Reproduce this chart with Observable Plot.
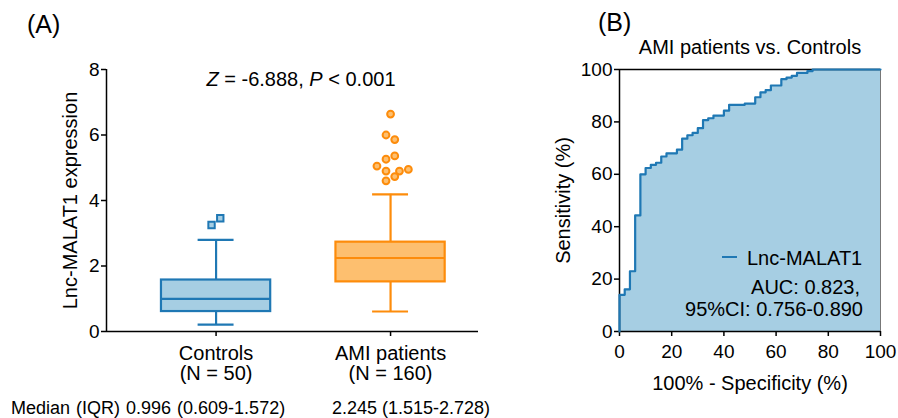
<!DOCTYPE html>
<html>
<head>
<meta charset="utf-8">
<script src="https://cdn.jsdelivr.net/npm/d3@7"></script>
<script src="https://cdn.jsdelivr.net/npm/@observablehq/plot@0.6"></script>
<style>
  html, body { margin: 0; padding: 0; background: #fff; }
  #root { position: relative; width: 898px; height: 418px; overflow: hidden; font-family: "Liberation Sans", Arial, sans-serif; color: #000; }
  .abs { position: absolute; white-space: nowrap; line-height: 1; }
  #panelA, #panelB { position: absolute; top: 0; }
  #panelA { left: 0; }
  #panelB { left: 500px; }
</style>
</head>
<body>
<div id="root">
  <div id="panelA"></div>
  <div id="panelB"></div>
</div>
<script>
// ---------- Panel A data (box plot summaries) ----------
const groups = ["Controls", "AMI patients"];
const groupN = [50, 160];
const groupPos = [1, 2];
const q1 = [0.609, 1.515];
const median = [0.996, 2.245];
const q3 = [1.572, 2.728];
const whiskerLow = [0.21, 0.61];
const whiskerHigh = [2.80, 4.19];
const controlOutliers = [3.25, 3.46];
const controlJitter = [-0.026, 0.024];
const amiOutliers = [6.64, 6.00, 5.86, 5.36, 5.26, 5.05, 4.90, 4.90, 4.95, 4.73, 4.60];
const amiJitter = [0, -0.026, 0.024, 0.024, -0.026, -0.078, -0.026, 0.051, 0.102, 0.024, -0.026];
const yTicksA = [0, 2, 4, 6, 8];
const medianIQR = ["0.996 (0.609-1.572)", "2.245 (1.515-2.728)"];
const statText = { z: "-6.888", p: "0.001" };

// ---------- Panel B data (ROC steps) ----------
const fpr = [0, 0, 2, 4, 6, 8, 10, 12, 14, 16, 18, 22, 24, 26, 28, 30, 32, 34, 36, 40, 42, 48, 52, 54, 56, 58, 62, 64, 66, 68, 72, 74, 100];
const tpr = [0, 14.0, 16.1, 23.0, 44.3, 60.0, 62.4, 63.6, 64.4, 66.8, 68.0, 69.4, 73.6, 74.9, 75.8, 77.6, 80.7, 81.4, 82.4, 84.3, 86.5, 87.0, 89.4, 91.3, 92.1, 93.9, 96.3, 96.9, 97.6, 98.7, 99.4, 100, 100];
const ticksB = [0, 20, 40, 60, 80, 100];
const rocName = "Lnc-MALAT1";
const aucText = "AUC: 0.823,";
const ciText = "95%CI: 0.756-0.890";

// ---------- styles ----------
const strokeColors = ["#1f78b4", "#fd8c0b"];
const fillColors = ["#a6cee3", "#fdbf6f"];
const font = '"Liberation Sans", Arial, sans-serif';
const halfBox = 0.313, halfCap = 0.103;
const xDomainA = [0.372, 2.504];

const boxes = groups.map((g, i) => ({
  group: g, pos: groupPos[i], q1: q1[i], med: median[i], q3: q3[i],
  lo: whiskerLow[i], hi: whiskerHigh[i], stroke: strokeColors[i], fill: fillColors[i]
}));
const ctrlOut = controlOutliers.map((v, i) => ({ x: groupPos[0] + controlJitter[i], y: v }));
const amiOut = amiOutliers.map((v, i) => ({ x: groupPos[1] + amiJitter[i], y: v }));

const plotA = Plot.plot({
  width: 500, height: 418,
  marginLeft: 106, marginRight: 22, marginTop: 69, marginBottom: 87,
  style: { fontFamily: font, fontSize: "19px", color: "#000", background: "transparent", overflow: "visible" },
  x: { type: "linear", domain: xDomainA },
  y: { domain: [0, 8] },
  color: { type: "identity" },
  marks: [
    Plot.ruleX(boxes, { x: "pos", y1: "lo", y2: "q1", stroke: "stroke", strokeWidth: 2.2 }),
    Plot.ruleX(boxes, { x: "pos", y1: "q3", y2: "hi", stroke: "stroke", strokeWidth: 2.2 }),
    Plot.ruleY(boxes, { y: "lo", x1: d => d.pos - halfCap, x2: d => d.pos + halfCap, stroke: "stroke", strokeWidth: 2.2 }),
    Plot.ruleY(boxes, { y: "hi", x1: d => d.pos - halfCap, x2: d => d.pos + halfCap, stroke: "stroke", strokeWidth: 2.2 }),
    Plot.rect(boxes, { x1: d => d.pos - halfBox, x2: d => d.pos + halfBox, y1: "q1", y2: "q3", fill: "fill", stroke: "stroke", strokeWidth: 2.2 }),
    Plot.ruleY(boxes, { y: "med", x1: d => d.pos - halfBox, x2: d => d.pos + halfBox, stroke: "stroke", strokeWidth: 2.2 }),
    Plot.dot(ctrlOut, { x: "x", y: "y", symbol: "square", r: 3.6, fill: fillColors[0], stroke: strokeColors[0], strokeWidth: 2 }),
    Plot.dot(amiOut, { x: "x", y: "y", r: 3.4, fill: fillColors[1], stroke: strokeColors[1], strokeWidth: 2 }),
    Plot.axisY({ ticks: yTicksA, tickSize: 5, tickPadding: 2, strokeWidth: 1.5, label: null, fontSize: 19 }),
    Plot.axisY({ ticks: [], label: "Lnc-MALAT1 expression", labelAnchor: "center", labelOffset: 44, labelArrow: "none", fontSize: 20 }),
    Plot.axisX({ ticks: groupPos, tickFormat: (d) => { const i = groupPos.indexOf(d); return `${groups[i]}\n(N = ${groupN[i]})`; }, tickSize: 5, tickPadding: 9, strokeWidth: 1.5, label: null, fontSize: 20 }),
    Plot.ruleY([0], { stroke: "#000", strokeWidth: 1.5 }),
    Plot.ruleX([xDomainA[0]], { stroke: "#000", strokeWidth: 1.5 })
  ]
});
document.getElementById("panelA").append(plotA);

const roc = fpr.map((x, i) => ({ fpr: x, tpr: tpr[i] }));
const plotB = Plot.plot({
  width: 398, height: 418,
  marginLeft: 119, marginRight: 18, marginTop: 69, marginBottom: 87,
  style: { fontFamily: font, fontSize: "19px", color: "#000", background: "transparent", overflow: "visible" },
  x: { domain: [0, 100] },
  y: { domain: [0, 100] },
  marks: [
    Plot.areaY(roc, { x: "fpr", y: "tpr", curve: "step-after", fill: fillColors[0] }),
    Plot.ruleY([100], { stroke: "#000", strokeWidth: 1.5 }),
    Plot.ruleX([100], { stroke: "#777", strokeWidth: 1 }),
    Plot.axisX({ ticks: ticksB, tickSize: 5, tickPadding: 8, strokeWidth: 1.5, label: null, fontSize: 19 }),
    Plot.axisX({ ticks: [], label: "100% - Specificity (%)", labelAnchor: "center", labelOffset: 58, labelArrow: "none", fontSize: 20 }),
    Plot.axisY({ ticks: ticksB, tickSize: 5, tickPadding: 2, strokeWidth: 1.5, label: null, fontSize: 19 }),
    Plot.axisY({ ticks: [], label: "Sensitivity (%)", labelAnchor: "center", labelOffset: 64, labelArrow: "none", fontSize: 20 }),
    Plot.ruleY([0], { stroke: "#000", strokeWidth: 1.5 }),
    Plot.ruleX([0], { stroke: "#000", strokeWidth: 1.5 }),
    Plot.lineY(roc, { x: "fpr", y: "tpr", curve: "step-after", stroke: strokeColors[0], strokeWidth: 2.2 })
  ]
});
document.getElementById("panelB").append(plotB);

// ---------- annotations ----------
const root = document.getElementById("root");
function addText(html, css) {
  const d = document.createElement("div");
  d.className = "abs";
  d.innerHTML = html;
  Object.assign(d.style, css);
  root.append(d);
  return d;
}
addText("(A)", { left: "27px", top: "12px", fontSize: "25px" });
addText("(B)", { left: "598px", top: "10px", fontSize: "25px" });
addText(`<i>Z</i> = ${statText.z}, <i>P</i> &lt; ${statText.p}`, { left: "301px", top: "69px", fontSize: "20px", transform: "translateX(-50%)" });
addText("AMI patients vs. Controls", { left: "750px", top: "37px", fontSize: "20px", transform: "translateX(-50%)" });
addText(`Median (IQR) ${medianIQR[0]}`, { left: "11px", top: "399px", fontSize: "18px", wordSpacing: "1px" });
addText(medianIQR[1], { left: "332px", top: "399px", fontSize: "18px" });
// legend
const sw = document.createElement("div");
Object.assign(sw.style, { position: "absolute", left: "722px", top: "256px", width: "15px", height: "2.4px", background: strokeColors[0] });
root.append(sw);
addText(rocName, { left: "747px", top: "248px", fontSize: "20px" });
addText(aucText, { right: "38px", top: "277px", fontSize: "20px" });
addText(ciText, { right: "35px", top: "299px", fontSize: "20px" });
</script>
</body>
</html>
